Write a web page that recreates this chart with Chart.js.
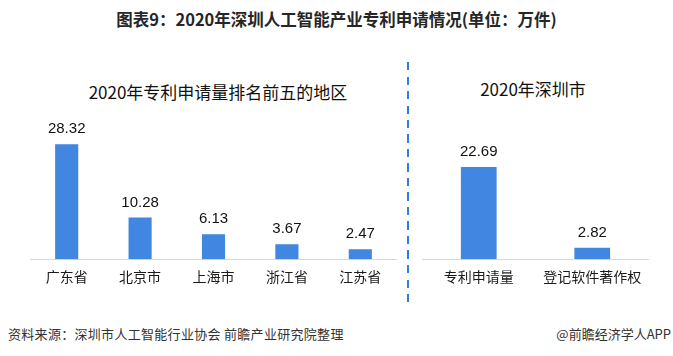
<!DOCTYPE html>
<html><head><meta charset="utf-8">
<script src="https://cdn.jsdelivr.net/npm/chart.js@4.4.0/dist/chart.umd.min.js"></script>
<style>
html,body{margin:0;padding:0;background:#fff;}
body{width:673px;height:356px;overflow:hidden;position:relative;font-family:"Noto Sans CJK SC","Noto Sans",sans-serif;}
.abs{position:absolute;white-space:nowrap;}
#title{left:0;width:673px;text-align:center;top:8px;font-size:16.5px;font-weight:bold;color:#262626;line-height:22px;}
.ptitle{font-size:17px;color:#111;line-height:22px;transform:translateX(-50%);}
#divider{left:407px;top:62px;width:2px;height:240px;background:repeating-linear-gradient(to bottom,#2f7fe0 0px,#2f7fe0 8px,transparent 8px,transparent 14.5px);}
.foot{font-size:13px;color:#333;line-height:18px;letter-spacing:0.3px;}
canvas{position:absolute;}
</style>
</head><body>
<div id="title" class="abs">图表9：2020年深圳人工智能产业专利申请情况(单位：万件)</div>
<div class="abs ptitle" style="left:218px;top:81px;">2020年专利申请量排名前五的地区</div>
<div class="abs ptitle" style="left:533px;top:78px;">2020年深圳市</div>
<div id="divider" class="abs"></div>
<canvas id="c1" width="367" height="179" style="left:30px;top:107px;width:367px;height:179px;"></canvas>
<canvas id="c2" width="227" height="179" style="left:422px;top:107px;width:227px;height:179px;"></canvas>
<div class="abs foot" style="left:8px;top:325px;">资料来源：深圳市人工智能行业协会 前瞻产业研究院整理</div>
<div class="abs foot" style="right:2px;top:325px;letter-spacing:0;">@前瞻经济学人APP</div>
<script>
const leftCategories = ['广东省','北京市','上海市','浙江省','江苏省'];
const leftValues = [28.32, 10.28, 6.13, 3.67, 2.47];
const rightCategories = ['专利申请量','登记软件著作权'];
const rightValues = [22.69, 2.82];
const yMax = 35;

const valueLabels = {
  id: 'valueLabels',
  afterDatasetsDraw(chart) {
    const ctx = chart.ctx;
    const meta = chart.getDatasetMeta(0);
    const data = chart.data.datasets[0].data;
    ctx.save();
    ctx.font = '15px "Liberation Sans", Arial, sans-serif';
    ctx.fillStyle = '#111';
    ctx.textAlign = 'center';
    ctx.textBaseline = 'middle';
    meta.data.forEach((bar, i) => {
      ctx.fillText(data[i].toFixed(2), bar.x, bar.y - 15);
    });
    ctx.restore();
  }
};

function makeChart(id, labels, values) {
  return new Chart(document.getElementById(id), {
    type: 'bar',
    data: {
      labels: labels,
      datasets: [{
        data: values,
        backgroundColor: '#4186E0',
        borderWidth: 0,
        barPercentage: 0.315,
        categoryPercentage: 1.0
      }]
    },
    options: {
      responsive: false,
      animation: false,
      layout: { padding: { top: 10, left: 0, right: 0, bottom: 0 } },
      plugins: { legend: { display: false }, tooltip: { enabled: false }, title: { display: false } },
      scales: {
        x: {
          grid: { display: false },
          border: { display: true, color: '#d9d9d9', width: 1 },
          ticks: { color: '#1a1a1a', padding: 1, font: { size: 14, family: '"Noto Sans CJK SC", sans-serif' } }
        },
        y: { display: false, min: 0, max: yMax }
      }
    },
    plugins: [valueLabels]
  });
}
makeChart('c1', leftCategories, leftValues);
makeChart('c2', rightCategories, rightValues);
</script>
</body></html>
